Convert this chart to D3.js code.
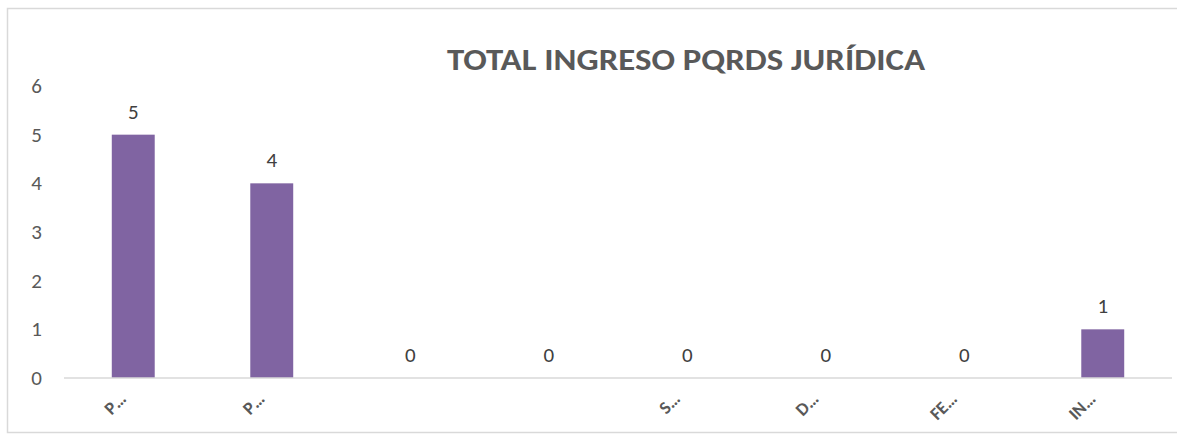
<!DOCTYPE html>
<html>
<head>
<meta charset="utf-8">
<script src="https://cdn.jsdelivr.net/npm/d3@7"></script>
<style>
  body { margin: 0; background: #fff; }
  svg { display: block; font-family: Calibri, Carlito, Lato, sans-serif; }
</style>
</head>
<body>
<div id="chart"></div>
<script>
const categories = ['P…', 'P… ', '', ' ', 'S…', 'D…', 'FE…', 'IN…'];
const values = [5, 4, 0, 0, 0, 0, 0, 1];
const yTicks = [0, 1, 2, 3, 4, 5, 6];
const title = 'TOTAL INGRESO PQRDS JURÍDICA';

const width = 1177, height = 440;
const margin = { left: 64, right: 1172, top: 86, bottom: 378 };

const svg = d3.select('#chart').append('svg')
  .attr('width', width)
  .attr('height', height);

// chart frame
svg.append('rect')
  .attr('x', 7.5).attr('y', 8.5)
  .attr('width', 1200).attr('height', 424)
  .attr('fill', 'none')
  .attr('stroke', '#d9d9d9')
  .attr('stroke-width', 1.5);

const xScale = d3.scaleBand()
  .domain(categories)
  .range([margin.left, margin.right])
  .padding(0);

const yScale = d3.scaleLinear()
  .domain([0, 6])
  .range([margin.bottom, margin.top]);

const barWidth = xScale.step() * 0.31;

// title
svg.append('text')
  .attr('x', 686)
  .attr('y', 70)
  .attr('text-anchor', 'middle')
  .attr('font-size', 30)
  .attr('font-weight', 'bold')
  .attr('fill', '#595959')
  .attr('textLength', 478)
  .attr('lengthAdjust', 'spacingAndGlyphs')
  .text(title);

// y axis labels
svg.append('g')
  .selectAll('text')
  .data(yTicks)
  .enter().append('text')
  .attr('x', 42)
  .attr('y', d => yScale(d) + 7)
  .attr('text-anchor', 'end')
  .attr('font-size', 21)
  .attr('fill', '#595959')
  .text(d => d);

// bars
svg.append('g')
  .selectAll('rect')
  .data(values)
  .enter().append('rect')
  .attr('x', (d, i) => xScale(categories[i]) + xScale.step() / 2 - barWidth / 2)
  .attr('y', d => yScale(d))
  .attr('width', barWidth)
  .attr('height', d => yScale(0) - yScale(d))
  .attr('fill', '#8064a2');

// x axis line
svg.append('line')
  .attr('x1', margin.left).attr('x2', margin.right)
  .attr('y1', yScale(0)).attr('y2', yScale(0))
  .attr('stroke', '#d9d9d9')
  .attr('stroke-width', 1.5);

// data labels
svg.append('g')
  .selectAll('text')
  .data(values)
  .enter().append('text')
  .attr('x', (d, i) => xScale(categories[i]) + xScale.step() / 2)
  .attr('y', d => yScale(d) - 16)
  .attr('text-anchor', 'middle')
  .attr('font-size', 21)
  .attr('fill', '#404040')
  .text(d => d);

// category labels along 45 degree paths
const defs = svg.append('defs');
defs.selectAll('path')
  .data(categories)
  .enter().append('path')
  .attr('id', (d, i) => 'lab' + i)
  .attr('d', d => {
    const cx = xScale(d) + xScale.step() / 2 - 6;
    const y0 = 400;
    return 'M' + (cx - 80) + ',' + (y0 + 80) + 'L' + cx + ',' + y0;
  });

svg.append('g')
  .selectAll('text')
  .data(categories)
  .enter().append('text')
  .attr('font-size', 18)
  .attr('font-weight', 'bold')
  .attr('fill', '#595959')
  .append('textPath')
  .attr('href', (d, i) => '#lab' + i)
  .attr('startOffset', '100%')
  .attr('text-anchor', 'end')
  .text(d => d.trim());
</script>
</body>
</html>
